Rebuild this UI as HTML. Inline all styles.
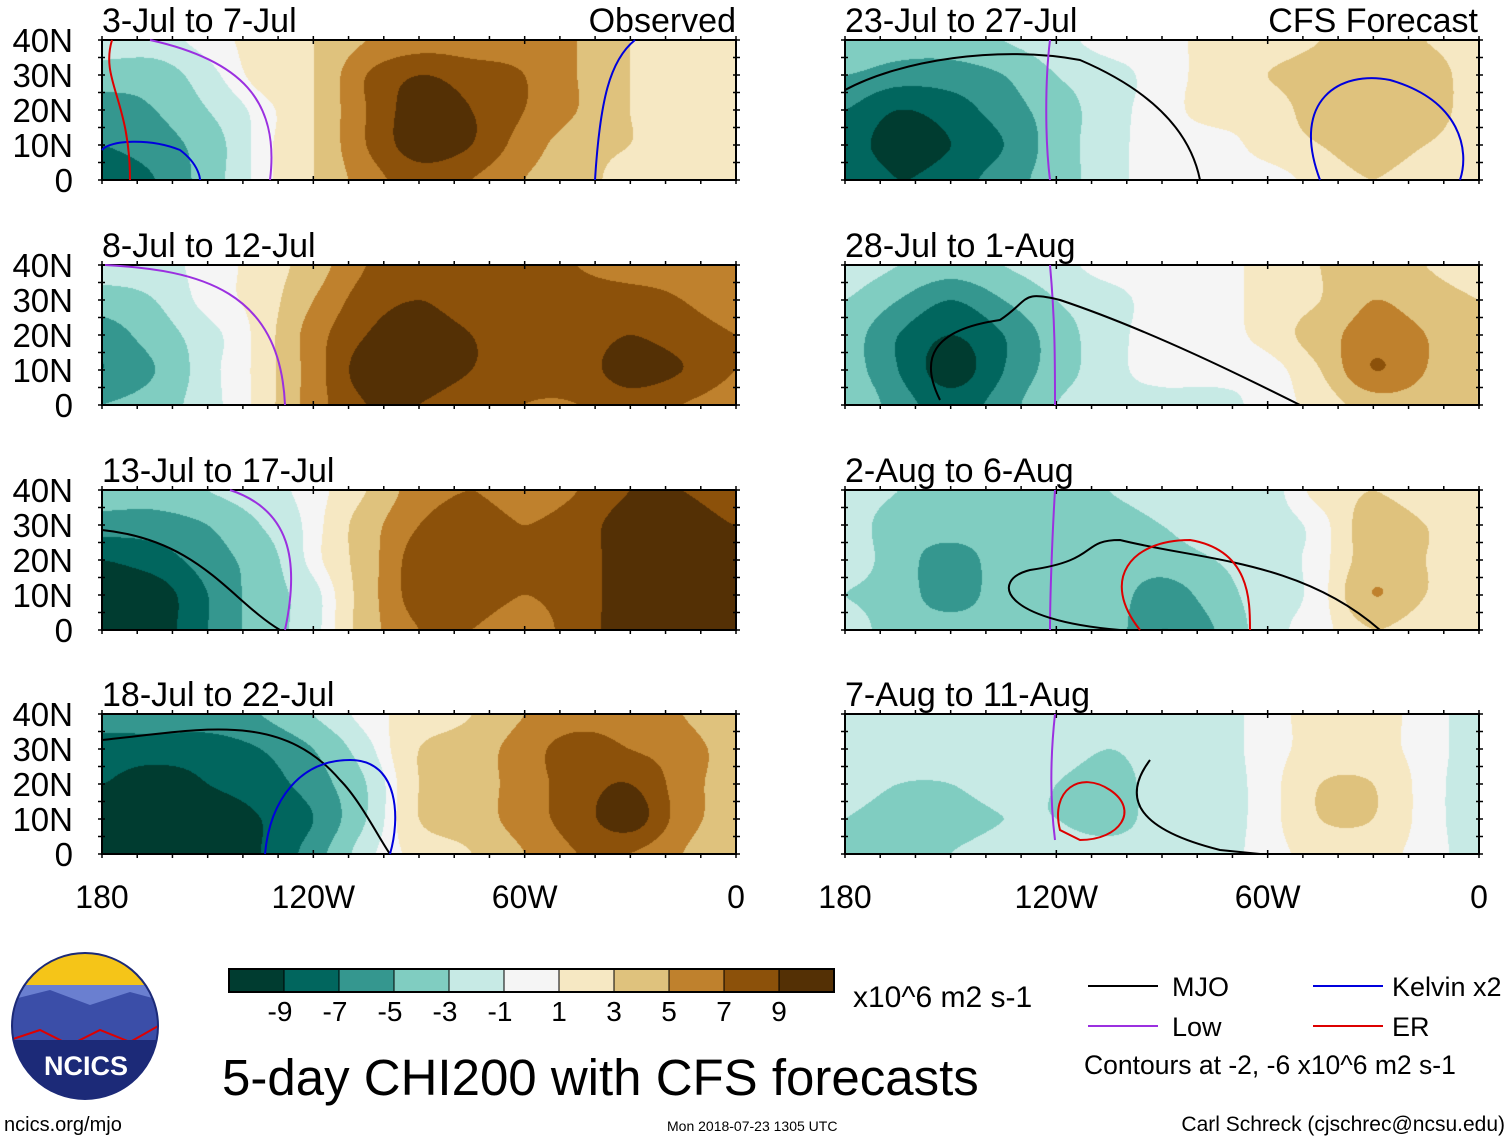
<!DOCTYPE html>
<html><head><meta charset="utf-8">
<style>
body{margin:0;background:#fff;width:1510px;height:1141px;position:relative;overflow:hidden;font-family:"Liberation Sans",sans-serif;}
canvas{position:absolute;}
</style></head><body>
<svg id="ov" width="1510" height="1141" style="position:absolute;left:0;top:0"></svg>
<script>
// ---- data: CHI200 anomaly grid per panel; columns 180,165W,...,0 ; rows 40N,30N,20N,10N,0
const lonLabels = ["180","120W","60W","0"];
const latLabels = ["40N","30N","20N","10N","0"];
const cbLabels = [-9,-7,-5,-3,-1,1,3,5,7,9];
const cbColors = ["#003c30","#01665e","#35978f","#80cdc1","#c7eae5","#f5f5f5","#f6e8c3","#dfc27d","#bf812d","#8c510a","#543005"];
const titles = ["3-Jul to 7-Jul","8-Jul to 12-Jul","13-Jul to 17-Jul","18-Jul to 22-Jul","23-Jul to 27-Jul","28-Jul to 1-Aug","2-Aug to 6-Aug","7-Aug to 11-Aug"];
const p1 = [[-1,-3,-5,-6,-7],[-1,-3,-4,-5,-6],[0,-1,-2,-3,-3],[1,1,0,0,0],[2,2,2,2,2],[4,6,6,6,5],[5,8,9,9,7],[5,7,8,8,6],[5,6,6,5,4],[4,4,4,3,3],[2,2,2,2,1],[1,1,1,1,1],[1,1,1,1,1]];
const p2 = [[-1,-3,-5,-6,-4],[-1,-2,-3,-4,-3],[0,0,-1,-1,-1],[1,1,1,1,1],[3,4,5,5,5],[6,7,8,9,8],[7,8,9,9,8],[7,7,8,8,7],[7,7,7,7,6],[6,7,7,7,6],[5,7,8,9,7],[5,6,7,8,6],[4,5,6,6,5]];
const p3 = [[-3,-5,-8,-9,-9],[-3,-5,-7,-9,-9],[-2,-4,-5,-6,-6],[-1,-2,-3,-3,-3],[0,0,0,-1,-1],[2,3,3,3,3],[5,6,7,7,6],[6,7,7,7,6],[5,6,6,6,5],[6,7,7,7,7],[8,9,9,9,9],[8,9,9,9,9],[7,8,9,9,8]];
const p4 = [[-5,-7,-8,-9,-8],[-5,-7,-9,-9,-9],[-5,-7,-8,-9,-9],[-4,-6,-7,-8,-8],[-2,-4,-5,-6,-5],[0,-1,-2,-2,-1],[1,2,2,2,1],[2,3,3,3,2],[4,5,5,5,4],[5,7,7,7,6],[5,6,8,9,6],[4,5,5,5,4],[2,3,3,3,2]];
const p5 = [[-2,-4,-6,-7,-6],[-3,-5,-8,-9,-8],[-3,-5,-7,-8,-7],[-2,-4,-5,-6,-5],[-1,-2,-3,-3,-3],[0,-1,-1,-1,-1],[0,0,0,0,0],[1,1,1,0,0],[1,2,1,1,0],[2,3,3,2,1],[3,3,3,3,2],[2,3,3,2,1],[1,1,1,1,1]];
const p6 = [[-1,-2,-3,-3,-2],[-2,-4,-6,-6,-5],[-3,-6,-8,-9,-7],[-2,-4,-6,-6,-5],[-1,-2,-3,-3,-2],[0,-1,-1,-1,-1],[0,0,0,0,-1],[0,0,0,0,-1],[1,1,1,0,0],[2,2,3,2,1],[3,4,5,6,3],[2,3,4,4,3],[1,2,2,2,2]];
const p7 = [[-1,-1,-1,-2,-1],[-2,-3,-3,-3,-3],[-3,-3,-5,-5,-3],[-3,-3,-3,-3,-3],[-3,-3,-3,-3,-3],[-2,-3,-3,-3,-3],[-1,-2,-3,-5,-6],[-1,-1,-2,-3,-4],[-1,-1,-1,-1,-1],[1,0,0,0,0],[2,3,3,4,2],[1,2,2,2,1],[1,1,1,1,1]];
const p8 = [[-1,-1,-1,-2,-2],[-1,-1,-2,-3,-3],[-1,-1,-2,-3,-2],[-1,-1,-1,-2,-1],[-1,-1,-2,-2,-1],[-1,-2,-3,-3,-1],[-1,-1,-1,-1,-1],[-1,-1,-1,-1,-1],[0,0,0,0,0],[1,1,2,2,1],[1,1,2,2,1],[0,0,0,0,0],[-1,-1,-1,-1,-1]];
const fields = [p1,p2,p3,p4,p5,p6,p7,p8];
const thresholds = [-8,-6,-4,-2,-0.5,0.5,2,4,6,8];

const NS="http://www.w3.org/2000/svg";
const ov=document.getElementById('ov');
const PW=634, PH=140;
const lefts=[102,845], tops=[40,265,490,714];
function xScale(lonW){return lonW/180*PW;}
function yScale(lat){return (40-lat)/40*PH;}
function colorFor(v){let i=0;while(i<thresholds.length&&v>thresholds[i])i++;return cbColors[i];}
function hex(c){return [parseInt(c.substr(1,2),16),parseInt(c.substr(3,2),16),parseInt(c.substr(5,2),16)];}
function sv(tag,attrs,parent){const e=document.createElementNS(NS,tag);for(const k in attrs)e.setAttribute(k,attrs[k]);(parent||ov).appendChild(e);return e;}
function txt(s,x,y,size,anchor,parent){const t=sv('text',{x:x,y:y,'font-size':size,'text-anchor':anchor||'start','font-family':'Liberation Sans, sans-serif'},parent);t.textContent=s;return t;}
function cr(p0,p1,p2,p3,t){return 0.5*((2*p1)+(-p0+p2)*t+(2*p0-5*p1+4*p2-p3)*t*t+(-p0+3*p1-3*p2+p3)*t*t*t);}

fields.forEach((f,k)=>{
  const L=lefts[k<4?0:1], T=tops[k%4];
  const cv=document.createElement('canvas');
  cv.width=PW;cv.height=PH;cv.style.left=L+'px';cv.style.top=T+'px';
  
  
  document.body.insertBefore(cv,ov);
  const ctx=cv.getContext('2d');const img=ctx.createImageData(PW,PH);
  const nc=f.length-1,nr=f[0].length-1;
  const g=(i,j)=>f[Math.max(0,Math.min(nc,i))][Math.max(0,Math.min(nr,j))];
  for(let y=0;y<PH;y++)for(let x=0;x<PW;x++){
    const gx=x/(PW-1)*nc, gy=y/(PH-1)*nr;
    const i0=Math.min(Math.floor(gx),nc-1), j0=Math.min(Math.floor(gy),nr-1);
    const fx=gx-i0, fy=gy-j0;
    const col=[];
    for(let dj=-1;dj<=2;dj++)col.push(cr(g(i0-1,j0+dj),g(i0,j0+dj),g(i0+1,j0+dj),g(i0+2,j0+dj),fx));
    const v=cr(col[0],col[1],col[2],col[3],fy);
    const c=hex(colorFor(v));const p=(y*PW+x)*4;
    img.data[p]=c[0];img.data[p+1]=c[1];img.data[p+2]=c[2];img.data[p+3]=255;
  }
  ctx.putImageData(img,0,0);
  const gg=sv('g',{transform:'translate('+L+','+T+')'});
  
  
  sv('rect',{x:0,y:0,width:PW,height:PH,fill:'none',stroke:'#000','stroke-width':2},gg);
  for(let d=0;d<=180;d+=10){const x=xScale(d);const len=(d%60===0)?8:5;
    sv('line',{x1:x,y1:-4,x2:x,y2:len-4,stroke:'#000','stroke-width':1.5},gg);
    sv('line',{x1:x,y1:PH-len+4,x2:x,y2:PH+4,stroke:'#000','stroke-width':1.5},gg);}
  for(let la=0;la<=40;la+=5){const y=yScale(la);
    sv('line',{x1:-4,y1:y,x2:3,y2:y,stroke:'#000','stroke-width':1.5},gg);
    sv('line',{x1:PW-3,y1:y,x2:PW+4,y2:y,stroke:'#000','stroke-width':1.5},gg);}
  const tt=txt(titles[k],0,-8,34,'start',gg);
  
  
  if(k<4){latLabels.forEach((s,i)=>{const t=txt(s,-29,yScale(40-i*10)+12,33,'end',gg);
    
    });}
});
let h1=txt('Observed',736,32,34,'end');


let h2=txt('CFS Forecast',1478,32,34,'end');


lefts.forEach(L=>{lonLabels.forEach((s,i)=>{const t=txt(s,L+xScale(i*60),908,32,'middle');
  
  });});

const lines=[
 ["M102,150 C110,140 150,138 180,150 C200,165 200,180 200,180","#0000dd"],
 ["M112,40 C100,80 130,100 130,180","#dd0000"],
 ["M150,40 C240,60 280,100 270,180","#9b30e0"],
 ["M635,40 C610,60 600,100 595,180","#0000dd"],
 ["M105,265 C200,270 280,290 285,405","#9b30e0"],
 ["M102,530 C200,540 230,600 280,630","#000"],
 ["M230,490 C290,510 300,560 285,630","#9b30e0"],
 ["M102,740 C200,730 280,710 340,780 C360,800 380,840 390,854","#000"],
 ["M265,854 C270,800 300,760 350,760 C400,760 400,820 390,854","#0000dd"],
 ["M845,90 C900,60 1000,45 1080,60 C1150,90 1190,130 1200,180","#000"],
 ["M1050,40 C1045,80 1045,140 1050,180","#9b30e0"],
 ["M1320,180 C1290,100 1340,70 1390,80 C1460,100 1470,150 1460,180","#0000dd"],
 ["M1050,265 C1055,320 1055,360 1055,405","#9b30e0"],
 ["M940,400 C920,360 930,330 1000,320 C1030,300 1020,290 1060,300 C1150,330 1250,380 1300,405","#000"],
 ["M1055,490 C1052,540 1050,600 1050,630","#9b30e0"],
 ["M1120,630 C1000,620 990,580 1030,570 C1100,560 1080,540 1120,540 C1200,560 1300,560 1380,630","#000"],
 ["M1140,630 C1100,580 1130,540 1190,540 C1250,550 1250,600 1250,630","#dd0000"],
 ["M1055,714 C1050,760 1050,800 1055,840","#9b30e0"],
 ["M1060,830 C1050,790 1080,770 1110,790 C1140,810 1120,840 1080,840 Z","#dd0000"],
 ["M1150,760 C1120,800 1140,830 1220,850 L1260,854","#000"]
];
lines.forEach(l=>{const p=sv('path',{d:l[0],fill:'none',stroke:l[1],'stroke-width':2});
  
  });

const cb=sv('g',{});


const cbX=229,cbW=55,cbY=969,cbH=23;
cbColors.forEach((c,i)=>{sv('rect',{x:cbX+i*cbW,y:cbY,width:cbW,height:cbH,fill:c,stroke:'#000','stroke-width':1},cb);});
sv('rect',{x:cbX,y:cbY,width:cbW*11,height:cbH,fill:'none',stroke:'#000','stroke-width':2},cb);
cbLabels.forEach((v,i)=>{const t=txt(String(v),cbX+(i+1)*cbW-(v<0?4:0),1021,28,'middle',cb);
  
  });
let u=txt('x10^6 m2 s-1',853,1007,30,'start');


let ti=txt('5-day CHI200 with CFS forecasts',222,1095,51,'start');


const leg=[["MJO","#000",1088,1172,996],["Low","#9b30e0",1088,1172,1036],["Kelvin x2","#0000dd",1313,1392,996],["ER","#dd0000",1313,1392,1036]];
leg.forEach(e=>{const l=sv('line',{x1:e[2],y1:e[4]-10,x2:e[2]+70,y2:e[4]-10,stroke:e[1],'stroke-width':2});
  
  
  const t=txt(e[0],e[3],e[4],27,'start');
  
  });
let ct=txt('Contours at -2, -6 x10^6 m2 s-1',1084,1074,26.5,'start');


let f1=txt('ncics.org/mjo',4,1131,20,'start');


let f2=txt('Mon 2018-07-23 1305 UTC',667,1131,14,'start');


let f3=txt('Carl Schreck (cjschrec@ncsu.edu)',1505,1131,21,'end');


const lg=sv('g',{});


sv('defs',{},lg).innerHTML='<clipPath id="cc"><circle cx="85" cy="1026" r="73"/></clipPath>';
const cg=sv('g',{'clip-path':'url(#cc)'},lg);
sv('rect',{x:10,y:950,width:150,height:40,fill:'#f5c518'},cg);
sv('rect',{x:10,y:985,width:150,height:50,fill:'#6a7fd0'},cg);
sv('path',{d:'M10,1000 L50,990 L90,1005 L130,992 L160,1000 L160,1040 L10,1040Z',fill:'#3b4ea8'},cg);
sv('path',{d:'M10,1040 L40,1030 L70,1045 L100,1030 L130,1042 L160,1025',fill:'none',stroke:'#d00','stroke-width':2},cg);
sv('rect',{x:10,y:1040,width:150,height:60,fill:'#1c2a78'},cg);
sv('circle',{cx:85,cy:1026,r:73,fill:'none',stroke:'#1c2a78','stroke-width':2},lg);
const lt=sv('text',{x:86,y:1075,'font-size':27,'font-weight':'bold','text-anchor':'middle',fill:'#fff','font-family':'Liberation Sans, sans-serif'},lg);
lt.textContent='NCICS';
</script>
</body></html>
